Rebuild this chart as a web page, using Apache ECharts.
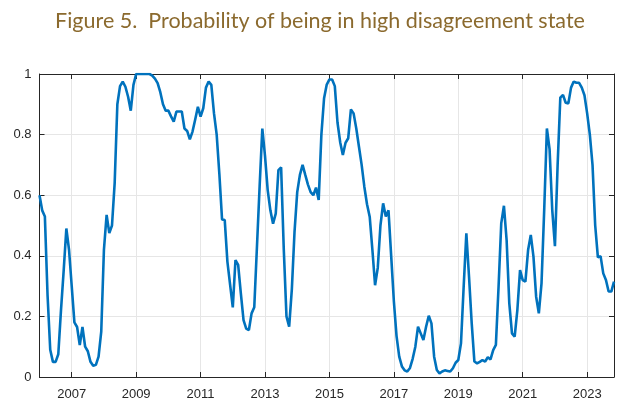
<!DOCTYPE html>
<html>
<head>
<meta charset="utf-8">
<script src="https://cdn.jsdelivr.net/npm/echarts@6/dist/echarts.min.js"></script>
<style>html,body{margin:0;padding:0;background:#fff}#c{width:640px;height:417px}</style>
</head>
<body>
<div id="c"></div>
<script>
var startYear = 2006;
var v2006 = [0.60, 0.55, 0.53, 0.27, 0.09, 0.05, 0.05, 0.075, 0.22, 0.35, 0.49, 0.42];
var v2007 = [0.30, 0.18, 0.165, 0.105, 0.165, 0.10, 0.085, 0.05, 0.037, 0.04, 0.067, 0.15];
var v2008 = [0.42, 0.535, 0.475, 0.50, 0.64, 0.90, 0.96, 0.975, 0.958, 0.925, 0.879, 0.964];
var v2009 = [1.0, 1.0, 1.0, 1.0, 1.0, 1.0, 0.995, 0.985, 0.97, 0.94, 0.90, 0.879];
var v2010 = [0.879, 0.86, 0.843, 0.876, 0.876, 0.876, 0.82, 0.812, 0.784, 0.81, 0.85, 0.892];
var v2011 = [0.859, 0.887, 0.955, 0.975, 0.964, 0.87, 0.80, 0.67, 0.52, 0.518, 0.38, 0.305];
var v2012 = [0.23, 0.386, 0.37, 0.276, 0.188, 0.16, 0.155, 0.21, 0.23, 0.43, 0.63, 0.82];
var v2013 = [0.73, 0.617, 0.55, 0.506, 0.539, 0.683, 0.692, 0.42, 0.20, 0.166, 0.29, 0.48];
var v2014 = [0.61, 0.667, 0.70, 0.667, 0.635, 0.61, 0.60, 0.625, 0.584, 0.80, 0.92, 0.965];
var v2015 = [0.982, 0.982, 0.96, 0.84, 0.775, 0.733, 0.773, 0.788, 0.883, 0.870, 0.82, 0.76];
var v2016 = [0.70, 0.628, 0.57, 0.529, 0.42, 0.303, 0.36, 0.50, 0.573, 0.53, 0.55, 0.40];
var v2017 = [0.25, 0.135, 0.067, 0.035, 0.022, 0.018, 0.03, 0.06, 0.10, 0.166, 0.144, 0.122];
var v2018 = [0.166, 0.202, 0.177, 0.067, 0.023, 0.012, 0.018, 0.022, 0.02, 0.018, 0.029, 0.047];
var v2019 = [0.056, 0.111, 0.298, 0.474, 0.331, 0.177, 0.051, 0.045, 0.05, 0.056, 0.051, 0.065];
var v2020 = [0.058, 0.089, 0.106, 0.298, 0.507, 0.565, 0.452, 0.243, 0.144, 0.133, 0.221, 0.353];
var v2021 = [0.32, 0.315, 0.419, 0.469, 0.397, 0.265, 0.21, 0.309, 0.551, 0.82, 0.752, 0.551];
var v2022 = [0.432, 0.70, 0.922, 0.931, 0.905, 0.903, 0.955, 0.975, 0.971, 0.971, 0.955, 0.93];
var v2023 = [0.87, 0.80, 0.70, 0.50, 0.395, 0.399, 0.342, 0.32, 0.282, 0.282, 0.315];
var tickYears = [2007, 2009, 2011, 2013, 2015, 2017, 2019, 2021, 2023];
var yTicks = [0, 0.2, 0.4, 0.6, 0.8, 1];
var titleText = 'Figure 5.  Probability of being in high disagreement state';

var years = [v2006, v2007, v2008, v2009, v2010, v2011, v2012, v2013, v2014, v2015, v2016, v2017, v2018, v2019, v2020, v2021, v2022, v2023];
var data = [];
years.forEach(function (arr, yi) {
  arr.forEach(function (v, mi) { data.push([startYear + yi + mi / 12, v]); });
});
var xMax = data[data.length - 1][0];

var axisColor = '#262626';
var gridColor = '#e6e6e6';
function xAx(pos, showLabel) {
  return {
    type: 'value', position: pos, min: startYear, max: xMax,
    axisLine: { show: true, onZero: false, lineStyle: { color: axisColor, width: 1 } },
    axisTick: { show: true, inside: true, length: 5, customValues: tickYears, lineStyle: { color: axisColor } },
    axisLabel: { show: showLabel, customValues: tickYears, margin: 11, color: axisColor, fontSize: 13, fontFamily: 'Liberation Sans, Arial, sans-serif',
      formatter: function (v) { return String(Math.round(v)); } },
    splitLine: { show: showLabel, lineStyle: { color: gridColor, width: 1 } }
  };
}
function yAx(pos, showLabel) {
  return {
    type: 'value', position: pos, min: 0, max: 1, interval: 0.2,
    axisLine: { show: true, lineStyle: { color: axisColor, width: 1 } },
    axisTick: { show: true, inside: true, length: 5, lineStyle: { color: axisColor } },
    axisLabel: { show: showLabel, margin: 8, color: axisColor, fontSize: 13, fontFamily: 'Liberation Sans, Arial, sans-serif',
      formatter: function (v) { return String(Math.round(v * 10) / 10); } },
    splitLine: { show: showLabel, lineStyle: { color: gridColor, width: 1 } }
  };
}
var chart = echarts.init(document.getElementById('c'), null, { renderer: 'canvas' });
chart.setOption({
  animation: false,
  backgroundColor: '#ffffff',
  title: {
    text: titleText, left: 'center', top: 5,
    textStyle: { color: '#8b6a2e', fontSize: 21.5, fontWeight: 'normal', fontFamily: 'Lato, sans-serif' }
  },
  grid: { left: 39.5, right: 26, top: 74, bottom: 40 },
  xAxis: [xAx('bottom', true), xAx('top', false)],
  yAxis: [yAx('left', true), yAx('right', false)],
  series: [{
    type: 'line', data: data, showSymbol: false, symbol: 'none',
    lineStyle: { color: '#0072bd', width: 2.6 }, xAxisIndex: 0, yAxisIndex: 0
  }]
});
</script>
</body>
</html>
